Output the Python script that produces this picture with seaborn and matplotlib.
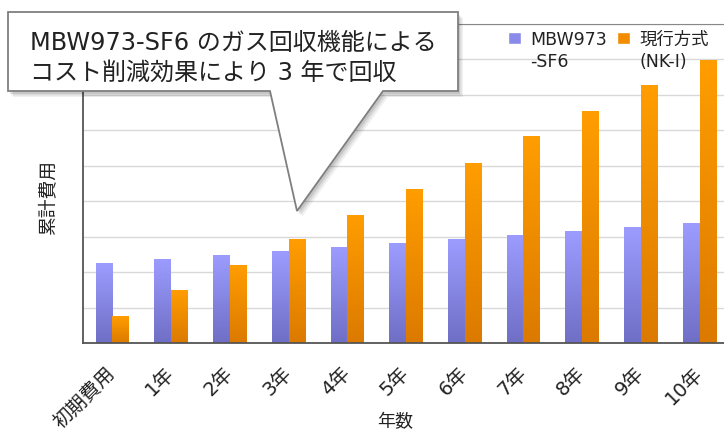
import numpy as np
import pandas as pd
import seaborn as sns
import matplotlib.pyplot as plt
from matplotlib.patches import Patch, Polygon, Rectangle
from matplotlib.legend_handler import HandlerPatch

# Chart data (unit = one grid step)
categories = ['初期費用', '1年', '2年', '3年', '4年', '5年', '6年', '7年', '8年', '9年', '10年']
mbw_values = [2.25, 2.37, 2.49, 2.59, 2.70, 2.82, 2.93, 3.05, 3.15, 3.26, 3.38]
current_values = [0.75, 1.49, 2.19, 2.93, 3.62, 4.35, 5.08, 5.84, 6.55, 7.28, 7.99]
series_names = ['MBW973\n-SF6', '現行方式\n(NK-I)']
callout_text = 'MBW973-SF6 のガス回収機能による\nコスト削減効果により 3 年で回収'

# gradient colours (top, bottom) per series
grad_colors = {series_names[0]: ('#9c9cff', '#6f6fc6'),
               series_names[1]: ('#ff9d00', '#dc7a00')}
mid_colors = ['#8a8ae8', '#f28c00']

df = pd.DataFrame({
    'category': categories * 2,
    'value': mbw_values + current_values,
    'series': [series_names[0]] * len(categories) + [series_names[1]] * len(categories),
})

sns.set_style('white')
FONTS = ['DejaVu Sans', 'Noto Sans CJK JP']
plt.rcParams['font.family'] = FONTS

W, H = 724, 431
fig = plt.figure(figsize=(W / 100, H / 100), dpi=100)
ax = fig.add_axes([83 / W, 1 - 344 / H, (729 - 83) / W, (344 - 25) / H])

sns.barplot(data=df, x='category', y='value', hue='series', order=categories,
            hue_order=series_names, palette=mid_colors, width=0.57, gap=0,
            legend=False, ax=ax, saturation=1)

# vertical gradient fill for each bar
grad = np.linspace(0, 1, 64).reshape(-1, 1)
for bar in list(ax.patches):
    x0, y0 = bar.get_x(), bar.get_y()
    w, h = bar.get_width(), bar.get_height()
    fc = bar.get_facecolor()
    key = series_names[0] if fc[2] > fc[0] else series_names[1]
    top, bottom = grad_colors[key]
    cmap = sns.blend_palette([bottom, top], as_cmap=True)
    im = ax.imshow(grad, cmap=cmap, extent=[x0, x0 + w, y0, y0 + h],
                   origin='lower', aspect='auto', zorder=2)
    im.set_clip_path(bar)
    bar.set_facecolor('none')
    bar.set_edgecolor('none')

ax.set_xlim(-0.5, len(categories) - 0.5)
ax.set_ylim(0, 9)
ax.set_yticks(range(0, 10))
ax.set_yticklabels([])
ax.tick_params(axis='y', length=0)
ax.grid(axis='y', color='#d9d9d9', linewidth=1)
ax.set_axisbelow(True)

# category boundary ticks pointing inward
ax.set_xticks(np.arange(0.5, len(categories) - 0.5), minor=True)
ax.tick_params(axis='x', which='minor', direction='in', length=6, width=1.2, color='#444444')
ax.tick_params(axis='x', which='major', length=0, pad=19)
for lbl in ax.get_xticklabels():
    lbl.set_rotation(45)
    lbl.set_ha('right')
    lbl.set_va('center')
    lbl.set_rotation_mode('anchor')
    lbl.set_fontsize(14)
    lbl.set_color('#222222')

for side in ['left', 'bottom']:
    ax.spines[side].set_color('#555555')
    ax.spines[side].set_linewidth(1.3)
ax.spines['top'].set_color('#888888')
ax.spines['right'].set_visible(False)

ax.set_xlabel('年数', fontsize=13, color='#222222', va='top')
ax.xaxis.set_label_coords(0.483, -0.217)
ax.set_ylabel('累計費用', fontsize=13.5, color='#222222', va='center')
ax.yaxis.set_label_coords(-0.054, 0.46)


# legend squares sit beside the first line of each two-line label
def top_square(legend, orig_handle, xdescent, ydescent, width, height, fontsize):
    s = 0.72 * fontsize
    return Rectangle((-xdescent, -ydescent + 0.75 * fontsize), s, s)


handles = [Patch(facecolor=mid_colors[0]), Patch(facecolor=mid_colors[1])]
leg = ax.legend(handles, series_names, ncol=2, loc='upper left',
                bbox_to_anchor=(508 / W, 1 - 31 / H), bbox_transform=fig.transFigure,
                frameon=False, fontsize=12.5, handlelength=0.72, handleheight=0.72,
                handletextpad=0.55, columnspacing=0.6, borderpad=0, borderaxespad=0,
                handler_map={Patch: HandlerPatch(patch_func=top_square)})
for t in leg.get_texts():
    t.set_linespacing(1.3)
    t.set_color('#222222')


# speech-bubble callout, drawn in figure pixels
def px(x, y):
    return (x / W, 1 - y / H)


bubble = [px(8, 13), px(458, 13), px(458, 92), px(383, 92), px(297, 212),
          px(270, 92), px(8, 92)]
for i, a in enumerate([0.10, 0.08, 0.06]):
    off = 2 + i * 1.5
    shadow = [(x + off / W, y - (off + 1) / H) for x, y in bubble]
    fig.add_artist(Polygon(shadow, closed=True, facecolor='#000000', alpha=a,
                           edgecolor='none', transform=fig.transFigure, zorder=9))
fig.add_artist(Polygon(bubble, closed=True, facecolor='white', edgecolor='#7f7f7f',
                       linewidth=1.3, transform=fig.transFigure, zorder=10))
fig.text(30 / W, 1 - 58 / H, callout_text, fontsize=17.3, color='#222222',
         ha='left', va='center', linespacing=1.3, zorder=11)

fig.savefig('out.png', dpi=100)
